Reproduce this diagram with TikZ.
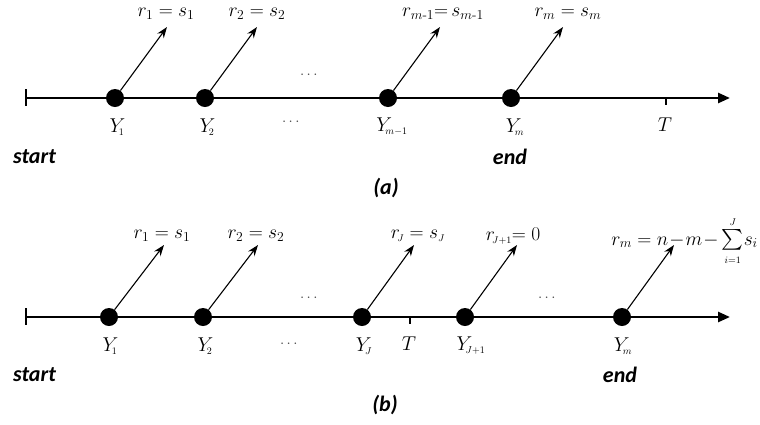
\RequirePackage{fix-cm}
\documentclass[tikz,border=0pt]{standalone}
\usepackage{amsmath}
\usepackage{fontspec}
\newfontfamily\lblfont{Carlito}
\usetikzlibrary{arrows.meta}
\tikzset{
  axisline/.style={line width=2.6pt,-{Triangle[length=12pt,width=10pt]}},
  startbar/.style={line width=2.6pt},
  dot/.style={circle,fill=black,inner sep=0pt,minimum size=18pt},
  vec/.style={line width=1.1pt,-{Stealth[length=11pt,width=8pt]}},
  toplbl/.style={font=\fontsize{19.5}{22}\selectfont,inner sep=0pt},
  ylbl/.style={font=\fontsize{20}{23}\selectfont,inner sep=0pt},
  word/.style={font=\lblfont\bfseries\itshape\fontsize{22}{26}\selectfont,inner sep=0pt},
  dotsl/.style={font=\fontsize{15}{17}\selectfont,text=black!70,inner sep=0pt},
  tick/.style={line width=2.2pt}
}
\newcommand{\smsub}[1]{{\scriptscriptstyle #1}}
\begin{document}
\begin{tikzpicture}[x=1pt,y=-1pt]
\useasboundingbox[fill=white] (0,0) rectangle (760,424);
% ---------- panel (a)
\coordinate (sa) at (26,98);
\coordinate (ea) at (730,98);
\draw[startbar] (26,89) -- (26,106);
\draw[axisline] (sa) -- (ea);
\coordinate (Ta) at (666,98);
\coordinate (Tab) at (666,105);
\draw[tick] (Ta) -- (Tab);
\node[dot] (a1) at (115,98) {};
\node[dot] (a2) at (205,98) {};
\node[dot] (a3) at (388,98) {};
\node[dot] (a4) at (511,98) {};
\coordinate (ta1) at (167,27);
\coordinate (ta2) at (257,27);
\coordinate (ta3) at (440,27);
\coordinate (ta4) at (563,27);
\draw[vec] (a1) -- (ta1);
\draw[vec] (a2) -- (ta2);
\draw[vec] (a3) -- (ta3);
\draw[vec] (a4) -- (ta4);
\node[toplbl] (la1) at (166,14) {$r_1 = s_1$};
\node[toplbl] (la2) at (257,14) {$r_2 = s_2$};
\node[toplbl] (la3) at (443,14) {$r_{m\text{-}1}{=}\,s_{m\text{-}1}$};
\node[toplbl] (la4) at (568,14) {$r_m = s_m$};
\node[ylbl] (ya1) at (117,127) {$Y_{\!\smsub{1}}$};
\node[ylbl] (ya2) at (207,127) {$Y_{\!\smsub{2}}$};
\node[ylbl] (ya3) at (392,127) {$Y_{\!\smsub{m-1}}$};
\node[ylbl] (ya4) at (515,127) {$Y_{\!\smsub{m}}$};
\node[ylbl] (Tla) at (665,125) {$T$};
\node[dotsl] (da1) at (310,75) {$\cdots$};
\node[dotsl] (da2) at (292,122) {$\cdots$};
\node[word,anchor=west] (sta) at (13,157) {start};
\node[word] (ena) at (510,157) {end};
\node[word] (capa) at (386,188) {(a)};
% ---------- panel (b)
\coordinate (sb) at (26,317);
\coordinate (eb) at (730,317);
\draw[startbar] (26,308) -- (26,325);
\draw[axisline] (sb) -- (eb);
\coordinate (Tb) at (410,317);
\coordinate (Tbb) at (410,324);
\draw[tick] (Tb) -- (Tbb);
\node[dot] (b1) at (109,317) {};
\node[dot] (b2) at (203,317) {};
\node[dot] (b3) at (362,317) {};
\node[dot] (b4) at (465,317) {};
\node[dot] (b5) at (622,317) {};
\coordinate (tb1) at (164,245);
\coordinate (tb2) at (258,245);
\coordinate (tb3) at (414,245);
\coordinate (tb4) at (517,245);
\coordinate (tb5) at (674,245);
\draw[vec] (b1) -- (tb1);
\draw[vec] (b2) -- (tb2);
\draw[vec] (b3) -- (tb3);
\draw[vec] (b4) -- (tb4);
\draw[vec] (b5) -- (tb5);
\node[toplbl] (lb1) at (162,236) {$r_1 = s_1$};
\node[toplbl] (lb2) at (256,236) {$r_2 = s_2$};
\node[toplbl] (lb3) at (418,236) {$r_{\!\smsub{J}} = s_{\smsub{J}}$};
\node[toplbl] (lb4) at (513,236) {$r_{\!\smsub{J+1}}{=}\;0$};
\node[toplbl,anchor=east] (lb5) at (758,241) {$r_m = n\mkern1mu{-}\mkern1mu m\mkern1mu{-}\textstyle\sum\limits_{\smsub{i=1}}^{\smsub{J}}\! s_i$};
\node[ylbl] (yb1) at (110,346) {$Y_{\!\smsub{1}}$};
\node[ylbl] (yb2) at (205,346) {$Y_{\!\smsub{2}}$};
\node[ylbl] (yb3) at (364,346) {$Y_{\!\smsub{J}}$};
\node[ylbl] (yb4) at (471,346) {$Y_{\!\smsub{J+1}}$};
\node[ylbl] (yb5) at (623,346) {$Y_{\!\smsub{m}}$};
\node[ylbl] (Tlb) at (409,344) {$T$};
\node[dotsl] (db1) at (310,298) {$\cdots$};
\node[dotsl] (db2) at (290,344) {$\cdots$};
\node[dotsl] (db3) at (548,298) {$\cdots$};
\node[word,anchor=west] (stb) at (13,375) {start};
\node[word] (enb) at (620,375) {end};
\node[word] (capb) at (385,405) {(b)};
\end{tikzpicture}
\end{document}
